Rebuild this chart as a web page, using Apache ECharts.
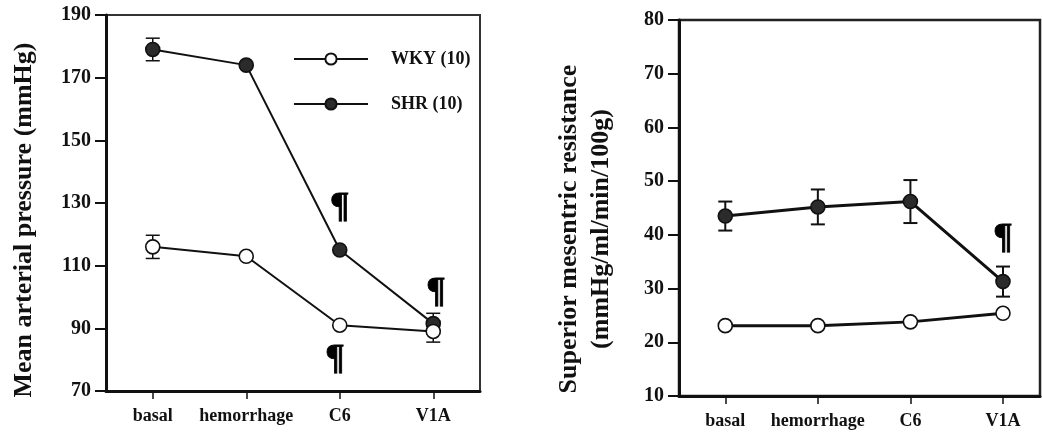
<!DOCTYPE html>
<html>
<head>
<meta charset="utf-8">
<script src="https://cdn.jsdelivr.net/npm/echarts@6/dist/echarts.min.js"></script>
<style>
  html, body { margin: 0; padding: 0; background: #fff; }
  #chart { width: 1042px; height: 434px; }
</style>
</head>
<body>
<div id="chart"></div>
<script>
// ---- data ----
const categories = ['basal', 'hemorrhage', 'C6', 'V1A'];
const seriesNames = ['WKY (10)', 'SHR (10)'];

// Left panel: Mean arterial pressure (mmHg)
const mapWKY = [116, 113, 91, 89];
const mapWKYErr = [3.7, null, null, 3.4];
const mapSHR = [179, 174, 115, 91.5];
const mapSHRErr = [3.6, null, null, 3.3];
const mapMarks = [[2.0, 128.4], [1.95, 79.9], [3.03, 101.3]];
const mapTicks = { min: 70, max: 190, interval: 20 };

// Right panel: Superior mesentric resistance
const smrWKY = [23.1, 23.1, 23.8, 25.4];
const smrWKYErr = [null, null, null, null];
const smrSHR = [43.5, 45.2, 46.2, 31.3];
const smrSHRErr = [2.7, 3.25, 4.0, 2.8];
const smrMarks = [[3.0, 39.2]];
const smrTicks = { min: 10, max: 80, interval: 10 };

// ---- helpers ----
const FONT = '"Liberation Serif", "Times New Roman", serif';
const pts = vals => vals.map((v, i) => [i, v]);
const errData = (vals, errs) => vals.map((v, i) => errs[i] == null ? null : [i, v - errs[i], v + errs[i]]).filter(d => d);

function errSeries(data, gridIdx, lw) {
  return {
    type: 'custom', xAxisIndex: gridIdx, yAxisIndex: gridIdx, z: 1, silent: true,
    data: data,
    renderItem: function (params, api) {
      const x = api.value(0);
      const lo = api.coord([x, api.value(1)]);
      const hi = api.coord([x, api.value(2)]);
      const w = 7;
      const st = { stroke: '#111', lineWidth: lw };
      return { type: 'group', children: [
        { type: 'line', shape: { x1: lo[0], y1: lo[1], x2: hi[0], y2: hi[1] }, style: st },
        { type: 'line', shape: { x1: lo[0] - w, y1: lo[1], x2: lo[0] + w, y2: lo[1] }, style: st },
        { type: 'line', shape: { x1: hi[0] - w, y1: hi[1], x2: hi[0] + w, y2: hi[1] }, style: st }
      ]};
    }
  };
}
function markSeries(data, gridIdx) {
  return {
    type: 'scatter', xAxisIndex: gridIdx, yAxisIndex: gridIdx, symbolSize: 1, z: 5, silent: true,
    itemStyle: { color: 'rgba(0,0,0,0)', opacity: 1 },
    label: { show: true, position: 'inside', formatter: '¶', fontFamily: FONT, fontWeight: 'bold',
      fontSize: 36, color: '#000', opacity: 1, textBorderColor: '#000', textBorderWidth: 0.8 },
    data: data
  };
}
function lineSeries(name, vals, gridIdx, lw, filled) {
  return {
    type: 'line', name: name, xAxisIndex: gridIdx, yAxisIndex: gridIdx,
    data: pts(vals), symbol: 'circle', symbolSize: 14, z: filled ? 3 : 4,
    lineStyle: { color: '#111', width: lw },
    itemStyle: { color: filled ? '#2b2b2b' : '#fff', borderColor: '#111', borderWidth: 1.6 },
    emphasis: { disabled: true }
  };
}
function xAx(gridIdx, max) {
  return {
    type: 'value', gridIndex: gridIdx, min: -0.5, max: max,
    splitLine: { show: false },
    axisLine: { show: true, onZero: false, lineStyle: { color: '#111', width: 3 } },
    axisTick: { show: true, customValues: [0, 1, 2, 3], length: 8, lineStyle: { color: '#111', width: 1.5 } },
    axisLabel: { customValues: [0, 1, 2, 3], formatter: v => categories[v], margin: 16,
      fontFamily: FONT, fontWeight: 'bold', fontSize: 18, color: '#111' }
  };
}
function yAx(gridIdx, t, name, gap, pad) {
  return {
    type: 'value', gridIndex: gridIdx, min: t.min, max: t.max, interval: t.interval,
    splitLine: { show: false },
    axisLine: { show: true, onZero: false, lineStyle: { color: '#111', width: 3 } },
    axisTick: { show: true, length: 11, lineStyle: { color: '#111', width: 2 } },
    axisLabel: { margin: 15, fontFamily: FONT, fontWeight: 'bold', fontSize: 20, color: '#111' },
    name: name, nameLocation: 'middle', nameRotate: 90, nameGap: gap,
    nameTextStyle: { fontFamily: FONT, fontWeight: 'bold', fontSize: 26, color: '#111', lineHeight: 32, padding: pad }
  };
}

const chart = echarts.init(document.getElementById('chart'), null, { renderer: 'canvas' });
chart.setOption({
  backgroundColor: '#fff',
  animation: false,
  grid: [
    { left: 106, top: 15, width: 374, height: 376, show: true, borderColor: '#333', borderWidth: 2 },
    { left: 679, top: 20, width: 361, height: 376, show: true, borderColor: '#222', borderWidth: 2.5 }
  ],
  legend: {
    data: seriesNames, orient: 'vertical', left: 293, top: 50, padding: 0,
    itemWidth: 74, itemHeight: 14, itemGap: 27,
    textStyle: { fontFamily: FONT, fontWeight: 'bold', fontSize: 18, color: '#111', padding: [0, 0, 0, 18] },
    selectedMode: false
  },
  xAxis: [xAx(0, 3.5), xAx(1, 3.4)],
  yAxis: [
    yAx(0, mapTicks, 'Mean arterial pressure (mmHg)', 66, [0, 34, 0, 0]),
    yAx(1, smrTicks, 'Superior mesentric resistance\n(mmHg/ml/min/100g)', 62, [0, 42, 0, 0])
  ],
  series: [
    errSeries(errData(mapSHR, mapSHRErr), 0, 1.5),
    errSeries(errData(mapWKY, mapWKYErr), 0, 1.5),
    lineSeries(seriesNames[1], mapSHR, 0, 2, true),
    lineSeries(seriesNames[0], mapWKY, 0, 2, false),
    markSeries(mapMarks, 0),
    errSeries(errData(smrSHR, smrSHRErr), 1, 2),
    errSeries(errData(smrWKY, smrWKYErr), 1, 2),
    lineSeries(seriesNames[1], smrSHR, 1, 3, true),
    lineSeries(seriesNames[0], smrWKY, 1, 3, false),
    markSeries(smrMarks, 1)
  ]
});
</script>
</body>
</html>
